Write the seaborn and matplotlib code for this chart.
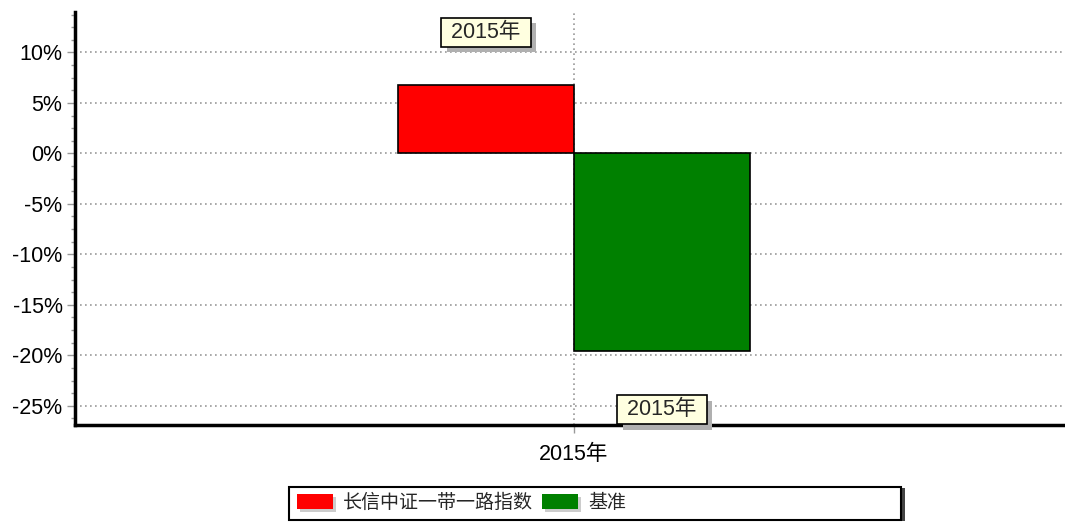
import matplotlib
matplotlib.use("Agg")
import matplotlib.pyplot as plt
import matplotlib.patheffects as pe
from matplotlib.ticker import MultipleLocator, FuncFormatter
import seaborn as sns
import pandas as pd

# data
categories = ["2015年"]
series_names = ["长信中证一带一路指数", "基准"]
series_values = [6.73, -19.6]
series_colors = ["#FF0000", "#008000"]

sns.set_theme(style="white")
plt.rcParams['font.family'] = ['Liberation Sans', 'Noto Sans CJK SC', 'DejaVu Sans']
plt.rcParams['axes.unicode_minus'] = False

df = pd.DataFrame({
    "category": categories * len(series_names),
    "series": series_names,
    "value": series_values,
})

W, H = 1065, 523
fig = plt.figure(figsize=(W / 100, H / 100), dpi=100)
ax = fig.add_axes([75 / W, (H - 425) / H, 990 / W, 413 / H])

sns.barplot(data=df, x="category", y="value", hue="series",
            palette=series_colors, width=0.356, edgecolor="black",
            linewidth=1.2, saturation=1, ax=ax, legend=False, zorder=3)

ax.set_xlim(-0.504, 0.496)
ax.set_ylim(-26.9, 14)
ax.yaxis.set_major_locator(MultipleLocator(5))
ax.yaxis.set_minor_locator(MultipleLocator(1.25))
ax.yaxis.set_major_formatter(FuncFormatter(lambda v, p: f"{v:.0f}%"))
ax.set_xlabel("")
ax.set_ylabel("")

ax.grid(axis="y", which="major", color="#999999", linestyle=(0, (1, 2)), linewidth=1.2, zorder=0)
ax.grid(axis="x", which="major", color="#999999", linestyle=(0, (1, 2)), linewidth=1.2, zorder=0)

for s in ["top", "right"]:
    ax.spines[s].set_visible(False)
for s in ["left", "bottom"]:
    ax.spines[s].set_color("black")
    ax.spines[s].set_linewidth(2.5)

FS = 15.5
ax.tick_params(axis="y", which="major", left=True, length=6, width=1, color="#999999",
               labelsize=FS, labelcolor="black", pad=3)
ax.tick_params(axis="y", which="minor", left=True, length=3, width=1, color="#999999")
ax.tick_params(axis="x", which="major", bottom=True, length=6, width=1, color="#999999",
               labelsize=FS, labelcolor="black", pad=8)

# data labels with shadowed box
shadow = [pe.withSimplePatchShadow(offset=(4, -4), shadow_rgbFace="#b0b0b0", alpha=1)]
bars = ax.patches
label_y = [12.0, -25.4]
for bar, ly in zip(bars, label_y):
    cx = bar.get_x() + bar.get_width() / 2
    t = ax.text(cx, ly, " " + categories[0] + " ", ha="center", va="center", fontsize=FS, zorder=6,
                bbox=dict(boxstyle="square,pad=0.19", facecolor="#FFFFE0",
                          edgecolor="black", linewidth=1.2))
    t.get_bbox_patch().set_path_effects(shadow)

# legend box drawn separately (fixed width, content left aligned)
box = plt.Rectangle((289 / W, 1 - 520 / H), 612 / W, 33 / H, transform=fig.transFigure,
                    facecolor="white", edgecolor="black", linewidth=1.5, zorder=1)
box.set_path_effects([pe.withSimplePatchShadow(offset=(3, -1), shadow_rgbFace="#444444", alpha=1)])
fig.add_artist(box)

handles = [plt.Rectangle((0, 0), 1, 1, facecolor=c, edgecolor="none",
                         path_effects=[pe.withSimplePatchShadow(offset=(2, -2), shadow_rgbFace="#cccccc", alpha=1)])
           for c in series_colors]
leg = fig.legend(handles, series_names, loc="center left", bbox_to_anchor=(297 / W, 1 - 503 / H),
                 ncol=2, frameon=False, fontsize=13.7,
                 handlelength=1.9, handleheight=0.82, handletextpad=0.5, columnspacing=0.5,
                 borderpad=0, borderaxespad=0)
leg.set_zorder(2)

fig.savefig("out.png", dpi=100)
